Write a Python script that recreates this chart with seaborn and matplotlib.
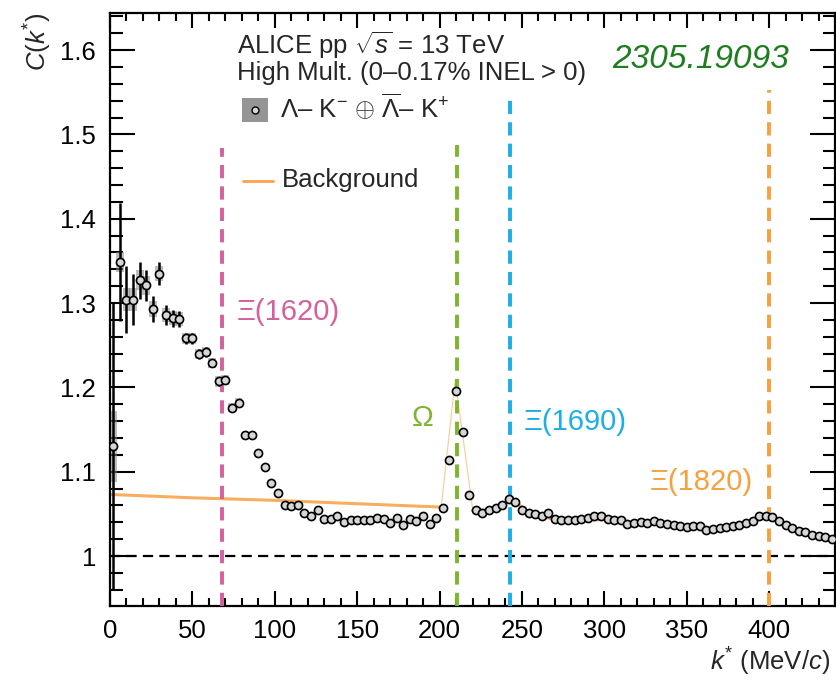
import matplotlib
matplotlib.use("Agg")
import matplotlib.pyplot as plt
import seaborn as sns
import pandas as pd
from matplotlib.patches import Rectangle
from matplotlib.lines import Line2D
from matplotlib.ticker import MultipleLocator

# ---------------- data ----------------
k_star = [2, 6, 10, 14, 18, 22, 26, 30, 34, 38, 42, 46, 50, 54, 58, 62, 66, 70, 74, 78,
          82, 86, 90, 94, 98, 102, 106, 110, 114, 118, 122, 126, 130, 134, 138, 142, 146, 150, 154, 158,
          162, 166, 170, 174, 178, 182, 186, 190, 194, 198, 202, 206, 210, 214, 218, 222, 226, 230, 234, 238,
          242, 246, 250, 254, 258, 262, 266, 270, 274, 278, 282, 286, 290, 294, 298, 302, 306, 310, 314, 318,
          322, 326, 330, 334, 338, 342, 346, 350, 354, 358, 362, 366, 370, 374, 378, 382, 386, 390, 394, 398,
          402, 406, 410, 414, 418, 422, 426, 430, 434, 438]
ck = [1.130, 1.349, 1.304, 1.304, 1.327, 1.321, 1.293, 1.335, 1.286, 1.282, 1.281, 1.258, 1.258, 1.240, 1.242, 1.229, 1.207, 1.209, 1.176, 1.182,
      1.144, 1.143, 1.122, 1.106, 1.086, 1.075, 1.060, 1.059, 1.060, 1.051, 1.047, 1.054, 1.044, 1.044, 1.047, 1.040, 1.043, 1.043, 1.043, 1.043,
      1.045, 1.044, 1.039, 1.045, 1.037, 1.044, 1.042, 1.047, 1.038, 1.045, 1.057, 1.114, 1.196, 1.147, 1.072, 1.055, 1.051, 1.055, 1.057, 1.060,
      1.068, 1.064, 1.055, 1.051, 1.050, 1.048, 1.051, 1.044, 1.043, 1.043, 1.043, 1.044, 1.045, 1.047, 1.047, 1.044, 1.043, 1.043, 1.038, 1.039,
      1.040, 1.039, 1.041, 1.039, 1.038, 1.037, 1.036, 1.034, 1.035, 1.035, 1.031, 1.032, 1.033, 1.034, 1.035, 1.037, 1.039, 1.042, 1.047, 1.048,
      1.046, 1.042, 1.037, 1.033, 1.030, 1.028, 1.025, 1.024, 1.022, 1.020]
# statistical errors of the first bins (later ones are hidden by the markers)
stat_err = [0.170, 0.070, 0.040, 0.030, 0.022, 0.018, 0.015, 0.014, 0.012, 0.010,
            0.009, 0.007, 0.007, 0.006, 0.006, 0.005, 0.005, 0.005]
# systematic errors (boxes) of the first bins
syst_err = [0.042, 0.012, 0.014, 0.014, 0.012, 0.011, 0.010, 0.009, 0.008, 0.008,
            0.008, 0.006, 0.006, 0.006, 0.006, 0.006, 0.006, 0.006, 0.005, 0.005]

# background (smooth part + Omega peak part)
bkg_low_k = [0, 50, 100, 150, 201]
bkg_low_y = [1.073, 1.069, 1.066, 1.062, 1.058]
bkg_peak_k = [201, 209.5, 220]
bkg_peak_y = [1.058, 1.209, 1.057]
bkg_high_k = [220, 230, 238, 243, 247, 254, 262, 270, 280, 290, 300, 310, 320, 330,
              340, 350, 360, 370, 380, 390, 398, 402, 410, 420, 430, 440]
bkg_high_y = [1.054, 1.055, 1.060, 1.066, 1.063, 1.052, 1.047, 1.043, 1.042, 1.043, 1.043, 1.040, 1.038, 1.038,
              1.036, 1.034, 1.032, 1.032, 1.035, 1.041, 1.046, 1.045, 1.037, 1.029, 1.023, 1.018]

thresholds = [68, 210.5, 242.6, 400]
threshold_top = [1.484, 1.488, 1.545, 1.553]
threshold_labels = ["Ξ(1620)", "Ω", "Ξ(1690)", "Ξ(1820)"]
threshold_colors = ["#d4609c", "#7db52c", "#1eaee6", "#f7a03e"]

# ---------------- style ----------------
sns.set_style("ticks")
plt.rcParams["font.family"] = ["Liberation Sans", "DejaVu Sans"]
plt.rcParams["mathtext.fontset"] = "custom"
plt.rcParams["mathtext.rm"] = "Liberation Sans"
plt.rcParams["mathtext.it"] = "Liberation Sans:italic"
plt.rcParams["mathtext.bf"] = "Liberation Sans:bold"

W, H = 836, 680
fig = plt.figure(figsize=(W / 100, H / 100), dpi=100)
ax = fig.add_axes([110 / W, 74 / H, 725 / W, 593 / H])

def fx(px):
    return px / W

def fy(py):
    return 1 - py / H

# systematic boxes
for kv, cv, se in zip(k_star, ck, syst_err):
    ax.add_patch(Rectangle((kv - 2.4, cv - se), 4.8, 2 * se, facecolor="#8a8a8a",
                           edgecolor="none", alpha=0.55, zorder=2))
# stat error bars
ax.errorbar(k_star[:len(stat_err)], ck[:len(stat_err)], yerr=stat_err, fmt="none",
            ecolor="black", elinewidth=1.8, capsize=0, zorder=3)

# background
bcol = "#f8a54c"
sns.lineplot(x=bkg_low_k, y=bkg_low_y, ax=ax, color=bcol, lw=2.2, alpha=0.9, zorder=2.5, sort=False)
sns.lineplot(x=bkg_peak_k, y=bkg_peak_y, ax=ax, color=bcol, lw=0.8, alpha=0.6, zorder=2.5, sort=False)
sns.lineplot(x=bkg_high_k, y=bkg_high_y, ax=ax, color=bcol, lw=2.2, alpha=0.9, zorder=2.5, sort=False)

# data markers
df = pd.DataFrame({"k": k_star, "C": ck})
sns.scatterplot(data=df, x="k", y="C", ax=ax, s=34, marker="o", facecolor="#d6d6d6",
                edgecolor="black", linewidth=1.2, zorder=4)

# y = 1 reference
ax.axhline(1.0, color="black", lw=1.6, dashes=(4.6, 2.8), zorder=1.5)

# threshold lines
for xv, top, col in zip(thresholds, threshold_top, threshold_colors):
    ax.plot([xv, xv], [0.9407, top], color=col, lw=2.8, dashes=(3.4, 2.1), zorder=3.5)

ax.set_xlim(0, 440)
ax.set_ylim(0.9407, 1.644)

# ticks ROOT-like
ax.xaxis.set_major_locator(MultipleLocator(50))
ax.xaxis.set_minor_locator(MultipleLocator(10))
ax.yaxis.set_minor_locator(MultipleLocator(0.02))
ax.tick_params(axis="both", which="both", direction="in", top=True, right=True, width=1.5,
               colors="black", labelsize=18.5)
ax.tick_params(axis="x", which="major", length=11, pad=9)
ax.tick_params(axis="x", which="minor", length=6)
ax.tick_params(axis="y", which="major", length=18, pad=10)
ax.tick_params(axis="y", which="minor", length=9)
ax.set_yticks([1.0, 1.1, 1.2, 1.3, 1.4, 1.5, 1.6])
ax.set_yticklabels(["1", "1.1", "1.2", "1.3", "1.4", "1.5", "1.6"])
for sp in ax.spines.values():
    sp.set_linewidth(1.6)
    sp.set_visible(True)
    sp.set_color("black")

ax.set_xlabel("")
ax.set_ylabel("")
fig.text(fx(830), fy(662), r"$k^{*}$ (MeV/$c$)", ha="right", va="center", fontsize=18.5)
fig.text(fx(38), fy(12), r"$C(k^{*})$", ha="center", va="top", rotation=90, fontsize=18.5)

# header texts
fig.text(fx(237), fy(45), r"ALICE pp $\sqrt{s}$ = 13 TeV", ha="left", va="center", fontsize=18.5)
fig.text(fx(237), fy(73), "High Mult. (0–0.17% INEL > 0)", ha="left", va="center", fontsize=18.5)
fig.patches.append(Rectangle((fx(242), fy(122)), (268 - 242) / W, 24 / H, transform=fig.transFigure,
                             facecolor="#8a8a8a", edgecolor="none", alpha=0.9))
fig.lines.append(Line2D([fx(255)], [fy(110)], transform=fig.transFigure, marker="o", markersize=5,
                        markerfacecolor="#d6d6d6", markeredgecolor="black", markeredgewidth=1.0))
fig.text(fx(280), fy(108), r"$\Lambda$– K$^{-}$ $\oplus$ $\overline{\Lambda}$– K$^{+}$",
         ha="left", va="center", fontsize=18.5)
fig.lines.append(Line2D([fx(243), fx(273)], [fy(181), fy(181)], transform=fig.transFigure,
                        color=bcol, lw=2.0))
fig.text(fx(282), fy(180), "Background", ha="left", va="center", fontsize=18.5)
fig.text(fx(612), fy(60), "2305.19093", ha="left", va="center", fontsize=24, style="italic",
         color="#1e7d1e")

# threshold labels
label_pos = [(237, 312), (412, 418), (524, 422), (650, 482)]
for (px, py), lab, col in zip(label_pos, threshold_labels, threshold_colors):
    fig.text(fx(px), fy(py), lab, ha="left", va="center", fontsize=21, color=col)

fig.savefig("out.png", dpi=100)
